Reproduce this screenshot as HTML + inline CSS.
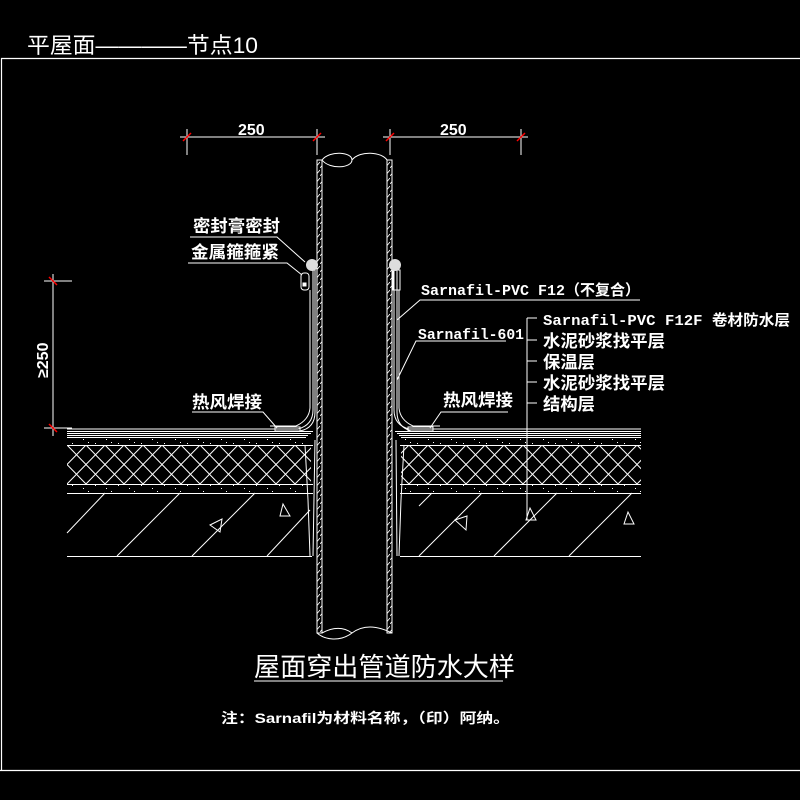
<!DOCTYPE html>
<html><head><meta charset="utf-8"><style>
html,body{margin:0;padding:0;background:#000;}
svg{display:block;}
text{fill:#fff;font-family:"Liberation Serif","Noto Serif CJK SC","Noto Sans CJK SC",serif;}
.m{font-family:"Liberation Mono","Noto Sans CJK SC",monospace;font-weight:bold;}
.c{font-family:"Liberation Sans","Noto Sans CJK SC",sans-serif;font-weight:bold;}
</style></head><body>
<svg width="800" height="800" viewBox="0 0 800 800" xmlns="http://www.w3.org/2000/svg">
<defs>
<pattern id="ins" x="67" y="445" width="19" height="19.5" patternUnits="userSpaceOnUse">
<path d="M0 0L19 19.5M19 0L0 19.5" stroke="#fff" stroke-width="1"/>
</pattern>
<pattern id="pw" x="0" y="0" width="5" height="8" patternUnits="userSpaceOnUse">
<path d="M0 8L5 2" stroke="#fff" stroke-width="0.8"/>
</pattern>
<pattern id="dots" width="23" height="7" patternUnits="userSpaceOnUse">
<rect x="3" y="2" width="1" height="1" fill="#fff"/><rect x="14" y="5" width="1" height="1" fill="#fff"/><rect x="19" y="1" width="1" height="1" fill="#fff"/>
</pattern>
</defs>
<rect width="800" height="800" fill="#000"/>
<g stroke="#fff" fill="none" stroke-width="1.2">
<path d="M1.5 770V58.5H800M0 770.5H800"/>
</g>
<text x="27" y="53" class="c" style="font-size:22px;font-weight:normal" textLength="231" lengthAdjust="spacingAndGlyphs">平屋面————节点10</text>

<g stroke="#fff" fill="none" stroke-width="1" shape-rendering="crispEdges">
<path d="M67 431.5H313M67 433.5H311M67 435.5H308M67 437.5H306"/>
<path d="M67 445.5H313M67 484.5H313M67 493.5H313M67 556.5H312"/>
<path d="M395 431.5H641M397 433.5H641M399 435.5H641M401 437.5H641"/>
<path d="M400 445.5H641M400 484.5H641M400 493.5H641M400 556.5H641"/>
</g>
<g stroke="#fff" fill="none" stroke-width="1">
<rect x="67" y="446" width="244" height="38" fill="url(#ins)" stroke="none"/>
<rect x="401" y="446" width="240" height="38" fill="url(#ins)" stroke="none"/>
<rect x="67" y="438" width="244" height="7" fill="url(#dots)" stroke="none"/>
<rect x="401" y="438" width="240" height="7" fill="url(#dots)" stroke="none"/>
<rect x="67" y="485" width="244" height="7" fill="url(#dots)" stroke="none"/>
<rect x="401" y="485" width="240" height="7" fill="url(#dots)" stroke="none"/>
<path d="M67 533L105 493M117 556L180 493M192 556L255 493M267 556L310 510"/>
<path d="M419 506L432 493M419 556L482 493M494 556L557 493M569 556L632 493"/>
<path d="M210 525l12 -6l-2 13z M283 504l-3 12h10z M455 520l12-4l-1 14z M530 508l-4 12h10z M628 512l-4 12h10z"/>
<path d="M305 445L308 500L310 556M315 440L313 556M404 445L401 500L399 556M396 440L397 556"/>
<rect x="317" y="160" width="5" height="473" fill="url(#pw)"/>
<rect x="387" y="160" width="5" height="473" fill="url(#pw)"/>
<path d="M317 160V633M322 160V633M387 160V633M392 160V633"/>
<path d="M322 160C330 150 352 152 352 160C352 168 330 170 322 160M352 160C360 150 382 152 387 160"/>
<path d="M317 633C325 640 340 642 352 633C364 624 378 626 392 633M322 633C335 626 345 628 352 633"/>
<path d="M313 270V410Q313 425 298 429H67"/>
<path d="M315 270V412Q315 428 300 431"/>
<path d="M310 290V408Q309 420 296 426H270"/>
<rect x="275" y="427" width="25" height="4"/>
<path d="M394 270V410Q394 425 409 429H641"/>
<path d="M397 270V412Q397 427 411 431"/>
<path d="M399 290V408Q400 420 413 426H440"/>
<rect x="408" y="427" width="25" height="4"/>
<rect x="301" y="273" width="8" height="17" rx="3"/>
<rect x="303" y="283" width="3" height="3" fill="#fff"/>
<rect x="393" y="270" width="7" height="20"/>
</g>
<circle cx="312" cy="265" r="6" fill="#ddd"/>
<circle cx="395" cy="265" r="6" fill="#ddd"/>

<g stroke="#fff" fill="none" stroke-width="1">
<path d="M180 137H325M187 129V155M317 129V155M383 137H528M390 129V155M521 129V155"/>
<path d="M44 281H72M44 428H72M53 274V436"/>
</g>
<g stroke="#f00" stroke-width="1.5">
<path d="M183 141L191 133M313 141L321 133M386 141L394 133M517 141L525 133M49 277L57 285M49 424L57 432"/>
</g>
<text x="238" y="135" class="c" style="font-size:16px">250</text>
<text x="440" y="135" class="c" style="font-size:16px">250</text>
<text transform="translate(48,378) rotate(-90)" class="c" style="font-size:16px">≥250</text>

<g stroke="#fff" fill="none" stroke-width="1">
<path d="M190 237H277L305 262M188 263H287L302 275"/>
<path d="M640 300H420L397 320M506 341H416L397 380"/>
<path d="M192 412H263L277 428M508 412H441L430 428"/>
<path d="M527 318V520M527 318H537M527 340H537M527 361H537M527 382H537M527 403H537"/>
<path d="M254 681H503"/>
</g>
<g style="font-size:17px">
<text x="193" y="232" class="c" textLength="87" lengthAdjust="spacingAndGlyphs">密封膏密封</text>
<text x="191" y="258" class="c" textLength="88" lengthAdjust="spacingAndGlyphs">金属箍箍紧</text>
<text x="192" y="408" class="c" textLength="70" lengthAdjust="spacingAndGlyphs">热风焊接</text>
<text x="443" y="406" class="c" textLength="70" lengthAdjust="spacingAndGlyphs">热风焊接</text>
<text x="543" y="325" class="m" style="font-size:15px" textLength="247" lengthAdjust="spacingAndGlyphs">Sarnafil-PVC F12F 卷材防水层</text>
<text x="543" y="347" class="c" textLength="122" lengthAdjust="spacingAndGlyphs">水泥砂浆找平层</text>
<text x="543" y="368" class="c" textLength="52" lengthAdjust="spacingAndGlyphs">保温层</text>
<text x="543" y="389" class="c" textLength="122" lengthAdjust="spacingAndGlyphs">水泥砂浆找平层</text>
<text x="543" y="410" class="c" textLength="52" lengthAdjust="spacingAndGlyphs">结构层</text>
<text x="421" y="295" class="m" style="font-size:15px" textLength="219" lengthAdjust="spacingAndGlyphs">Sarnafil-PVC F12（不复合）</text>
<text x="418" y="339" class="m" style="font-size:15px" textLength="106" lengthAdjust="spacingAndGlyphs">Sarnafil-601</text>
</g>
<text x="254" y="676" class="c" style="font-size:26px;font-weight:normal" textLength="261" lengthAdjust="spacingAndGlyphs">屋面穿出管道防水大样</text>
<text x="221" y="723" class="c" style="font-size:14px" textLength="289" lengthAdjust="spacingAndGlyphs">注：Sarnafil为材料名称，（印）阿纳。</text>
</svg>
</body></html>
